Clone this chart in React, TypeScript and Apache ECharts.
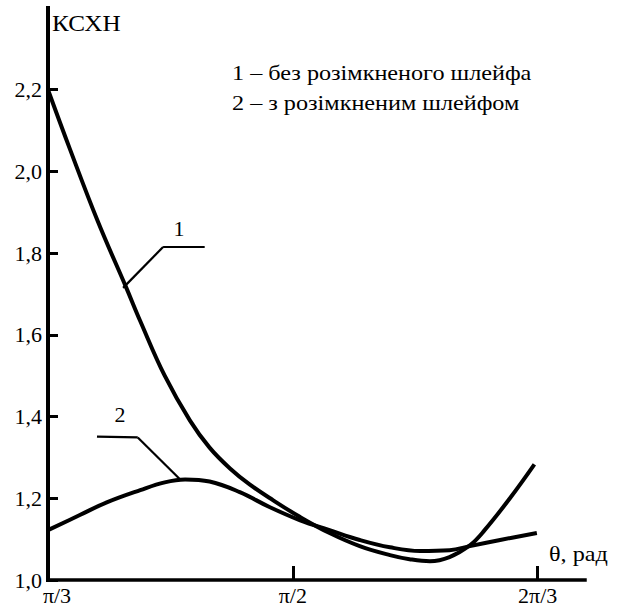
import React, { useEffect, useRef } from 'react';
import * as echarts from 'echarts';

const xTickValues = [60, 90, 120];
const xTickLabels = ['π/3', 'π/2', '2π/3'];
const yTickValues = [1.0, 1.2, 1.4, 1.6, 1.8, 2.0, 2.2];

const theta1 = [60, 62.7, 66.1, 69.6, 71.3, 74.3, 77.4, 79.8, 82.3, 84.7, 87.6, 90.9, 94.5, 98.2, 101.9, 104.3, 106.8, 109.2, 111.7, 113.5, 116.6, 119.6];
const ksxn1 = [2.2, 2.054, 1.878, 1.715, 1.634, 1.5, 1.39, 1.324, 1.273, 1.234, 1.195, 1.154, 1.115, 1.083, 1.061, 1.051, 1.046, 1.056, 1.085, 1.122, 1.2, 1.283];

const theta2 = [60, 63.9, 67.2, 71.3, 74.3, 76.8, 79.8, 83.5, 87.2, 90.9, 94.5, 98.2, 101.9, 105.6, 109.2, 111.7, 115.4, 119.9];
const ksxn2 = [1.122, 1.159, 1.19, 1.22, 1.239, 1.246, 1.241, 1.215, 1.178, 1.146, 1.122, 1.098, 1.08, 1.071, 1.073, 1.083, 1.098, 1.115];

const leader1 = [[69.2, 1.715], [74.1, 1.815], [79.2, 1.815]];
const leader2 = [[76.2, 1.246], [71.0, 1.349], [66.0, 1.351]];

const legendLines = ['1 – без розімкненого шлейфа', '2 – з розімкненим шлейфом'];

const FONT = 'Liberation Serif';

function segs(pts: number[][]) {
  const out: any[] = [];
  for (let i = 0; i < pts.length - 1; i++) {
    out.push([{ coord: pts[i] }, { coord: pts[i + 1] }]);
  }
  return out;
}

export default function App() {
  const ref = useRef<HTMLDivElement>(null);
  useEffect(() => {
    if (!ref.current) return;
    const chart = echarts.init(ref.current, null, { renderer: 'svg' });
    const markLineBase = {
      silent: true,
      symbol: ['none', 'none'],
      label: { show: false },
      emphasis: { disabled: true },
      lineStyle: { color: '#000', width: 2.2, type: 'solid' },
    };
    chart.setOption({
      animation: false,
      grid: { left: 48, right: 33, top: 8, bottom: 28, outerBoundsMode: 'none' },
      xAxis: {
        type: 'value',
        min: 60,
        max: 125.8,
        splitLine: { show: false },
        axisLine: { onZero: false, lineStyle: { color: '#000', width: 3.5, cap: 'square' } },
        axisTick: { show: true, inside: true, length: 14, customValues: [90, 120], lineStyle: { color: '#000', width: 3 } },
        axisLabel: {
          customValues: xTickValues,
          margin: 4,
          color: '#000',
          fontSize: 22,
          fontFamily: FONT,
          formatter: (v: number) => {
            const i = xTickValues.indexOf(Math.round(v));
            if (i === 0) return '{a|' + xTickLabels[0] + '}';
            return i >= 0 ? xTickLabels[i] : '';
          },
          rich: { a: { padding: [0, 0, 0, 18], fontSize: 22, fontFamily: FONT, color: '#000' } },
        },
      },
      yAxis: {
        type: 'value',
        min: 1.0,
        max: 2.4,
        splitLine: { show: false },
        axisLine: { onZero: false, lineStyle: { color: '#000', width: 4, cap: 'square' } },
        axisTick: { show: true, inside: true, length: 10, customValues: yTickValues, lineStyle: { color: '#000', width: 3 } },
        axisLabel: {
          customValues: yTickValues,
          margin: 6,
          color: '#000',
          fontSize: 22,
          fontFamily: FONT,
          formatter: (v: number) => v.toFixed(1).replace('.', ','),
        },
      },
      series: [
        {
          type: 'line',
          data: theta1.map((t, i) => [t, ksxn1[i]]),
          smooth: 0.4,
          symbol: 'none',
          lineStyle: { color: '#000', width: 4 },
          markLine: { ...markLineBase, data: segs(leader1) },
        },
        {
          type: 'line',
          data: theta2.map((t, i) => [t, ksxn2[i]]),
          smooth: 0.4,
          symbol: 'none',
          lineStyle: { color: '#000', width: 4 },
          markLine: { ...markLineBase, data: segs(leader2) },
        },
      ],
      graphic: [
        { type: 'text', x: 52, y: 23, scaleX: 1.05, style: { text: 'КСХН', fontSize: 24, fontFamily: FONT, fill: '#000', verticalAlign: 'middle' } },
        { type: 'text', x: 549, y: 553, scaleX: 1.1, style: { text: 'θ, рад', fontSize: 22, fontFamily: FONT, fill: '#000', verticalAlign: 'middle' } },
        { type: 'text', x: 232, y: 72, scaleX: 1.1, style: { text: legendLines[0], fontSize: 22, fontFamily: FONT, fill: '#000', verticalAlign: 'middle' } },
        { type: 'text', x: 232, y: 102, scaleX: 1.1, style: { text: legendLines[1], fontSize: 22, fontFamily: FONT, fill: '#000', verticalAlign: 'middle' } },
        { type: 'text', x: 179, y: 228, style: { text: '1', fontSize: 22, fontFamily: FONT, fill: '#000', align: 'center', verticalAlign: 'middle' } },
        { type: 'text', x: 120, y: 414, style: { text: '2', fontSize: 22, fontFamily: FONT, fill: '#000', align: 'center', verticalAlign: 'middle' } },
      ],
    });
    return () => chart.dispose();
  }, []);
  return <div ref={ref} style={{ position: 'absolute', left: 0, top: 0, width: 618, height: 608 }} />;
}
